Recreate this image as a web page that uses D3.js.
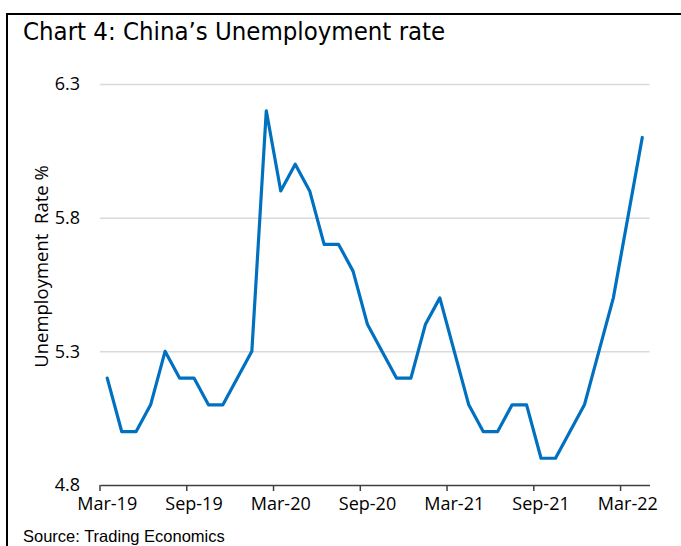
<!DOCTYPE html>
<html>
<head>
<meta charset="utf-8">
<script src="https://cdn.jsdelivr.net/npm/d3@7"></script>
<style>
  html, body { margin: 0; padding: 0; background: #fff; }
  svg { display: block; }
</style>
</head>
<body>
<svg id="chart" width="681" height="546"></svg>
<script>
// ---- Data ----
const months = [
  "Mar-19","Apr-19","May-19","Jun-19","Jul-19","Aug-19","Sep-19","Oct-19","Nov-19","Dec-19",
  "Jan-20","Feb-20","Mar-20","Apr-20","May-20","Jun-20","Jul-20","Aug-20","Sep-20","Oct-20",
  "Nov-20","Dec-20","Jan-21","Feb-21","Mar-21","Apr-21","May-21","Jun-21","Jul-21","Aug-21",
  "Sep-21","Oct-21","Nov-21","Dec-21","Jan-22","Feb-22","Mar-22","Apr-22"
];
const unemployment = [
  5.2, 5.0, 5.0, 5.1, 5.3, 5.2, 5.2, 5.1, 5.1, 5.2,
  5.3, 6.2, 5.9, 6.0, 5.9, 5.7, 5.7, 5.6, 5.4, 5.3,
  5.2, 5.2, 5.4, 5.5, 5.3, 5.1, 5.0, 5.0, 5.1, 5.1,
  4.9, 4.9, 5.0, 5.1, 5.3, 5.5, 5.8, 6.1
];
const xTickLabels = ["Mar-19","Sep-19","Mar-20","Sep-20","Mar-21","Sep-21","Mar-22"];
const yTicks = [4.8, 5.3, 5.8, 6.3];
const titleText = "Chart 4: China\u2019s Unemployment rate";
const yTitle = "Unemployment\u00A0 Rate %";
const sourceText = "Source: Trading Economics";

// ---- Layout ----
const svg = d3.select("#chart");
const plotL = 100, plotR = 649.5, plotT = 84, plotB = 485;
const tickFont = "'Open Sans', sans-serif";

const x = d3.scaleBand().domain(months).range([plotL, plotR]).padding(0);
const y = d3.scaleLinear().domain([4.8, 6.3]).range([plotB, plotT]);
const bw = x.bandwidth();

// frame lines
svg.append("line").attr("x1", 6).attr("x2", 681).attr("y1", 14).attr("y2", 14)
  .attr("stroke", "#000").attr("stroke-width", 2);
svg.append("line").attr("x1", 7).attr("x2", 7).attr("y1", 13).attr("y2", 546)
  .attr("stroke", "#000").attr("stroke-width", 2);

// title
svg.append("text").attr("x", 23).attr("y", 40)
  .attr("font-family", "'Liberation Sans Narrow', 'DejaVu Sans Condensed', 'Roboto Condensed', sans-serif")
  .attr("font-size", 25.5).attr("fill", "#000")
  .text(titleText);

// gridlines
svg.append("g").attr("transform", `translate(${plotL},0)`)
  .call(d3.axisLeft(y).tickValues(yTicks.filter(v => v !== 4.8)).tickSize(-(plotR - plotL)).tickFormat(""))
  .call(g => g.select(".domain").remove())
  .call(g => g.selectAll(".tick line").attr("stroke", "#d9d9d9").attr("stroke-width", 1.5));

// y axis labels
svg.append("g").attr("transform", `translate(${plotL},0)`)
  .call(d3.axisLeft(y).tickValues(yTicks).tickSize(0).tickPadding(20).tickFormat(d3.format(".1f")))
  .call(g => g.select(".domain").remove())
  .call(g => g.selectAll(".tick text").attr("font-family", tickFont).attr("font-size", 18).attr("fill", "#000"));

// x axis
const xAxis = svg.append("g").attr("transform", `translate(0,${plotB})`)
  .call(d3.axisBottom(x).tickValues(xTickLabels).tickSizeInner(6).tickSizeOuter(0).tickPadding(6));
xAxis.select(".domain").attr("stroke", "#404040").attr("stroke-width", 1.5);
xAxis.selectAll(".tick line").attr("stroke", "#404040").attr("stroke-width", 1.5)
  .attr("x1", -bw / 2).attr("x2", -bw / 2);
xAxis.selectAll(".tick text").attr("font-family", tickFont).attr("font-size", 18).attr("fill", "#000");

// y axis title
svg.append("text")
  .attr("transform", `translate(48,${(168 + 365) / 2}) rotate(-90)`)
  .attr("text-anchor", "middle")
  .attr("font-family", tickFont).attr("font-size", 18.5).attr("fill", "#000")
  .text(yTitle);

// line
const line = d3.line()
  .x((d, i) => x(months[i]) + bw / 2)
  .y(d => y(d));
svg.append("path").datum(unemployment)
  .attr("d", line)
  .attr("fill", "none")
  .attr("stroke", "#0070C0")
  .attr("stroke-width", 3.2)
  .attr("stroke-linejoin", "round")
  .attr("stroke-linecap", "round");

// source
svg.append("text").attr("x", 23).attr("y", 542)
  .attr("font-family", "'Liberation Sans', Arial, sans-serif")
  .attr("font-size", 16.5).attr("fill", "#000")
  .text(sourceText);
</script>
</body>
</html>
